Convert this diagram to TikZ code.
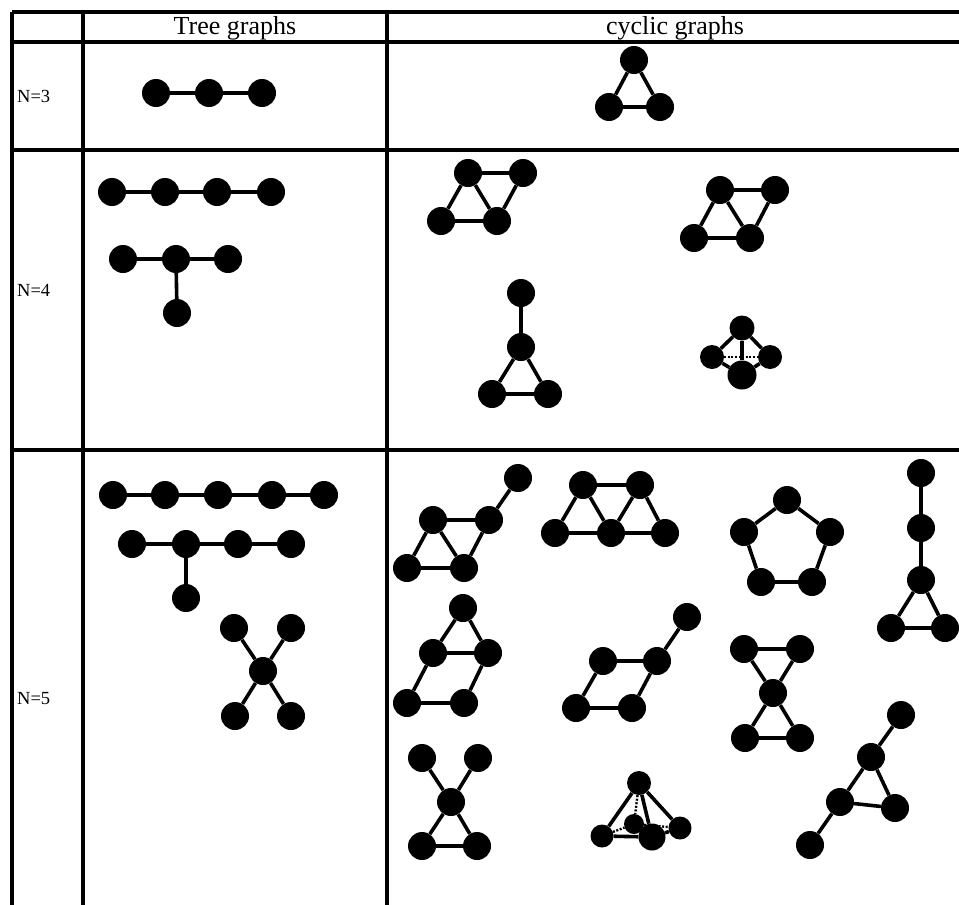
\documentclass[tikz,border=0pt]{standalone}
\usepackage{fontspec}
\setmainfont{Liberation Serif}
\pgfdeclarelayer{bg}
\pgfsetlayers{bg,main}
\begin{document}
\begin{tikzpicture}[x=1pt,y=-1pt,
 v/.style={circle,fill=black,inner sep=0pt,minimum size=28pt},
 vs/.style={circle,fill=black,inner sep=0pt,minimum size=#1},
 ed/.style={line width=3.6pt},
 dt/.style={line width=2.4pt,dash pattern=on 2pt off 1.6pt},
 gridline/.style={line width=3.2pt},
 hdr/.style={font=\fontsize{26}{30}\selectfont, anchor=base, inner sep=0pt},
 lbl/.style={font=\fontsize{18.5}{22}\selectfont, anchor=base west, inner sep=0pt}]
\useasboundingbox (0,0) rectangle (959,905);
% table
\draw[gridline] (12,12) -- (959,12);
\draw[gridline] (12,42) -- (959,42);
\draw[gridline] (12,150) -- (959,150);
\draw[gridline] (12,450) -- (959,450);
\draw[gridline] (12,12) -- (12,905);
\draw[gridline] (83,12) -- (83,905);
\draw[gridline] (387,12) -- (387,905);
% texts
\node[hdr] (th) at (235,34) {Tree graphs};
\node[hdr] (ch) at (675,34) {cyclic graphs};
\node[lbl] (l3) at (17,102) {N=3};
\node[lbl] (l4) at (17,296) {N=4};
\node[lbl] (l5) at (17,704) {N=5};
% N=3
\node[v] (a1) at (156,93) {};
\node[v] (a2) at (209,93) {};
\node[v] (a3) at (262,93) {};
\node[v] (b1) at (634,60) {};
\node[v] (b2) at (609,107) {};
\node[v] (b3) at (660,107) {};
% N=4 trees
\node[v] (c1) at (112,192) {};
\node[v] (c2) at (165,192) {};
\node[v] (c3) at (217,192) {};
\node[v] (c4) at (271,192) {};
\node[v] (d1) at (123,259) {};
\node[v] (d2) at (176,259) {};
\node[v] (d3) at (228,259) {};
\node[v] (d4) at (177,313) {};
% N=4 cyclic
\node[v] (e1) at (468,173) {};
\node[v] (e2) at (523,173) {};
\node[v] (e3) at (441,221) {};
\node[v] (e4) at (497,221) {};
\node[v] (f1) at (720,190) {};
\node[v] (f2) at (775,190) {};
\node[v] (f3) at (694,238) {};
\node[v] (f4) at (750,238) {};
\node[v] (g1) at (521,293) {};
\node[v] (g2) at (521,347) {};
\node[v] (g3) at (492,394) {};
\node[v] (g4) at (548,394) {};
\node[vs=25pt] (h1) at (742,328) {};
\node[vs=24pt] (h2) at (712,357) {};
\node[vs=24pt] (h3) at (770,357) {};
\node[vs=29pt] (h4) at (742,375) {};
% N=5 trees
\node[v] (i1) at (113,495) {};
\node[v] (i2) at (165,495) {};
\node[v] (i3) at (218,495) {};
\node[v] (i4) at (272,495) {};
\node[v] (i5) at (324,495) {};
\node[v] (j1) at (132,544) {};
\node[v] (j2) at (186,544) {};
\node[v] (j3) at (238,544) {};
\node[v] (j4) at (291,544) {};
\node[v] (j5) at (186,598) {};
\node[v] (k1) at (234,628) {};
\node[v] (k2) at (291,628) {};
\node[v] (k3) at (263,671) {};
\node[v] (k4) at (235,716) {};
\node[v] (k5) at (291,716) {};
% N=5 cyclic
\node[v] (m1) at (518,478) {};
\node[v] (m2) at (433,520) {};
\node[v] (m3) at (489,520) {};
\node[v] (m4) at (407,568) {};
\node[v] (m5) at (464,568) {};
\node[v] (n1) at (583,485) {};
\node[v] (n2) at (640,485) {};
\node[v] (n3) at (555,533) {};
\node[v] (n4) at (611,533) {};
\node[v] (n5) at (665,533) {};
\node[v] (p1) at (787,500) {};
\node[v] (p2) at (744,532) {};
\node[v] (p3) at (830,532) {};
\node[v] (p4) at (761,582) {};
\node[v] (p5) at (812,582) {};
\node[v] (q1) at (921,473) {};
\node[v] (q2) at (921,528) {};
\node[v] (q3) at (921,580) {};
\node[v] (q4) at (891,628) {};
\node[v] (q5) at (945,628) {};
\node[v] (r1) at (463,608) {};
\node[v] (r2) at (433,653) {};
\node[v] (r3) at (488,653) {};
\node[v] (r4) at (407,703) {};
\node[v] (r5) at (464,703) {};
\node[v] (s1) at (687,617) {};
\node[v] (s2) at (603,661) {};
\node[v] (s3) at (657,661) {};
\node[v] (s4) at (576,708) {};
\node[v] (s5) at (632,708) {};
\node[v] (t1) at (744,649) {};
\node[v] (t2) at (800,649) {};
\node[v] (t3) at (773,693) {};
\node[v] (t4) at (745,738) {};
\node[v] (t5) at (800,738) {};
\node[v] (u1) at (422,758) {};
\node[v] (u2) at (478,758) {};
\node[v] (u3) at (451,802) {};
\node[v] (u4) at (422,846) {};
\node[v] (u5) at (477,846) {};
\node[vs=24pt] (w1) at (639,783) {};
\node[vs=20pt] (w2) at (634,824) {};
\node[vs=23pt] (w3) at (602,836) {};
\node[vs=27pt] (w4) at (652,837) {};
\node[vs=23pt] (w5) at (680,828) {};
\node[v] (x1) at (901,715) {};
\node[v] (x2) at (871,757) {};
\node[v] (x3) at (840,802) {};
\node[v] (x4) at (895,808) {};
\node[v] (x5) at (810,845) {};
% edges
\begin{pgfonlayer}{bg}
\draw[ed] (a1) -- (a2) -- (a3);
\draw[ed] (b1) -- (b2) -- (b3) -- (b1);
\draw[ed] (c1) -- (c2) -- (c3) -- (c4);
\draw[ed] (d1) -- (d2) -- (d3);
\draw[ed] (d2) -- (d4);
\draw[ed] (e1) -- (e2) -- (e4) -- (e3) -- (e1) -- (e4);
\draw[ed] (f1) -- (f2) -- (f4) -- (f3) -- (f1) -- (f4);
\draw[ed] (g1) -- (g2) -- (g3) -- (g4) -- (g2);
\draw[dt] (h2) -- (h3);
\draw[ed] (h2) -- (h1) -- (h3) -- (h4) -- (h2);
\draw[ed] (h1) -- (h4);
\draw[ed] (i1) -- (i2) -- (i3) -- (i4) -- (i5);
\draw[ed] (j1) -- (j2) -- (j3) -- (j4);
\draw[ed] (j2) -- (j5);
\draw[ed] (k1) -- (k3) -- (k2);
\draw[ed] (k4) -- (k3) -- (k5);
\draw[ed] (m1) -- (m3) -- (m2) -- (m4) -- (m5) -- (m3);
\draw[ed] (m2) -- (m5);
\draw[ed] (n3) -- (n1) -- (n2) -- (n5) -- (n4) -- (n3);
\draw[ed] (n1) -- (n4) -- (n2);
\draw[ed] (p1) -- (p3) -- (p5) -- (p4) -- (p2) -- (p1);
\draw[ed] (q1) -- (q2) -- (q3) -- (q4) -- (q5) -- (q3);
\draw[ed] (r1) -- (r2) -- (r3) -- (r1);
\draw[ed] (r2) -- (r4) -- (r5) -- (r3);
\draw[ed] (s1) -- (s3) -- (s2) -- (s4) -- (s5) -- (s3);
\draw[ed] (t1) -- (t2) -- (t3) -- (t1);
\draw[ed] (t3) -- (t4) -- (t5) -- (t3);
\draw[ed] (u1) -- (u3) -- (u2);
\draw[ed] (u3) -- (u4) -- (u5) -- (u3);
\draw[dt] (w1) -- (w2);
\draw[dt] (w3) -- (w2) -- (w5);
\draw[ed] (w3) -- (w1) -- (w5) -- (w4) -- (w3);
\draw[ed] (w1) -- (w4);
\draw[ed] (x1) -- (x2) -- (x3) -- (x4) -- (x2);
\draw[ed] (x3) -- (x5);
\end{pgfonlayer}
\end{tikzpicture}
\end{document}
